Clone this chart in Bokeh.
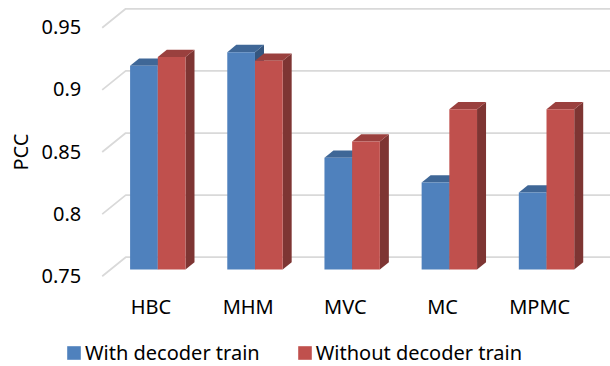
import numpy as np
from bokeh.plotting import figure
from bokeh.models import Range1d, Legend, LegendItem
from bokeh.core.properties import value
from bokeh.embed import file_html
from bokeh.resources import INLINE

# ---- data -------------------------------------------------------------
CATEGORIES = ["HBC", "MHM", "MVC", "MC", "MPMC"]
WITH_DECODER = [0.914, 0.925, 0.840, 0.820, 0.812]
WITHOUT_DECODER = [0.921, 0.918, 0.853, 0.879, 0.879]
SERIES_NAMES = ["With decoder train", "Without decoder train"]
Y_TICKS = [0.75, 0.80, 0.85, 0.90, 0.95]
Y_TICK_LABELS = ["0.75", "0.8", "0.85", "0.9", "0.95"]
Y_TITLE = "PCC"

# ---- 3D-look geometry (oblique projection) ----------------------------
X_PX = 97.18            # pixels per category step
Y_PX = 1242.0           # pixels per PCC unit
X0_PX = 149.0           # canvas x of the first category on the front edge
Y0_PX = 275.7           # canvas y of the 0.75 level on the front edge
DEPTH_DX = 23.5 / X_PX  # x shift of the full floor depth
DEPTH_DY = 19.0 / Y_PX  # y shift of the full floor depth
Z_FRONT, Z_BACK = 0.353, 0.736  # bar depth span (0 front edge, 1 back wall)
BAR_W = 27.7 / X_PX
BASE = Y_TICKS[0]
WALL_X = -0.4867

W, H = 610, 366
FONT = value("Noto Sans")
BLUE = ("#4F81BD", "#3F6797", "#34567F")   # front, top, side
RED = ("#C0504D", "#9A403E", "#7E3533")

p = figure(width=W, height=H, output_backend="svg", toolbar_location=None,
           x_range=Range1d(-X0_PX / X_PX, (W - X0_PX) / X_PX),
           y_range=Range1d(BASE - (H - Y0_PX) / Y_PX, BASE + Y0_PX / Y_PX),
           x_axis_type=None, y_axis_type=None,
           min_border=0)
p.outline_line_color = None
p.background_fill_color = "white"
p.border_fill_color = "white"

# back-wall gridlines with their slanted side-wall segment
grid_xs, grid_ys = [], []
for t in Y_TICKS:
    grid_xs.append([WALL_X, WALL_X + DEPTH_DX, 6.0])
    grid_ys.append([t, t + DEPTH_DY, t + DEPTH_DY])
p.multi_line(grid_xs, grid_ys, line_color="#D9D9D9", line_width=1.75)


def draw_series(values, offset, colors):
    fx, fy = Z_FRONT * DEPTH_DX, Z_FRONT * DEPTH_DY
    bx, by = Z_BACK * DEPTH_DX, Z_BACK * DEPTH_DY
    left = np.arange(len(values)) + offset
    right = left + BAR_W
    vals = np.array(values)
    side_xs = [[r + fx, r + fx, r + bx, r + bx] for r in right]
    side_ys = [[BASE + fy, v + fy, v + by, BASE + by] for v in vals]
    p.patches(side_xs, side_ys, fill_color=colors[2], line_color=None)
    top_xs = [[l + fx, r + fx, r + bx, l + bx] for l, r in zip(left, right)]
    top_ys = [[v + fy, v + fy, v + by, v + by] for v in vals]
    p.patches(top_xs, top_ys, fill_color=colors[1], line_color=None)
    return p.quad(left=left + fx, right=right + fx, bottom=BASE + fy, top=vals + fy,
                  fill_color=colors[0], line_color=None)


r_with = draw_series(WITH_DECODER, -BAR_W, BLUE)
r_without = draw_series(WITHOUT_DECODER, 0.0, RED)

# value axis labels along the front edge of the side wall
p.text(x=[WALL_X] * len(Y_TICKS), y=Y_TICKS, text=Y_TICK_LABELS,
       x_offset=-21, y_offset=-0.5, text_align="right", text_baseline="middle",
       text_font=FONT, text_font_size="20px", text_color="black")
# axis title
p.text(x=[WALL_X], y=[np.mean(Y_TICKS)], text=[Y_TITLE], angle=np.pi / 2,
       x_offset=-82, y_offset=0, text_align="center", text_baseline="middle",
       text_font=FONT, text_font_size="20px", text_color="black")
# category labels under the floor
p.text(x=list(range(len(CATEGORIES))), y=[BASE] * len(CATEGORIES), text=CATEGORIES,
       x_offset=1.5, y_offset=30, text_align="center", text_baseline="middle",
       text_font=FONT, text_font_size="20px", text_color="black")

legend = Legend(items=[LegendItem(label=SERIES_NAMES[0], renderers=[r_with]),
                       LegendItem(label=SERIES_NAMES[1], renderers=[r_without])],
                orientation="horizontal", location=(65, 0),
                glyph_width=17, glyph_height=17, label_standoff=3, spacing=36,
                padding=0, margin=0, border_line_color=None,
                background_fill_alpha=0,
                label_text_font="Noto Sans", label_text_font_size="20px",
                label_text_color="black")
p.add_layout(legend, "center")

open("out.html", "w").write(file_html(p, INLINE))
